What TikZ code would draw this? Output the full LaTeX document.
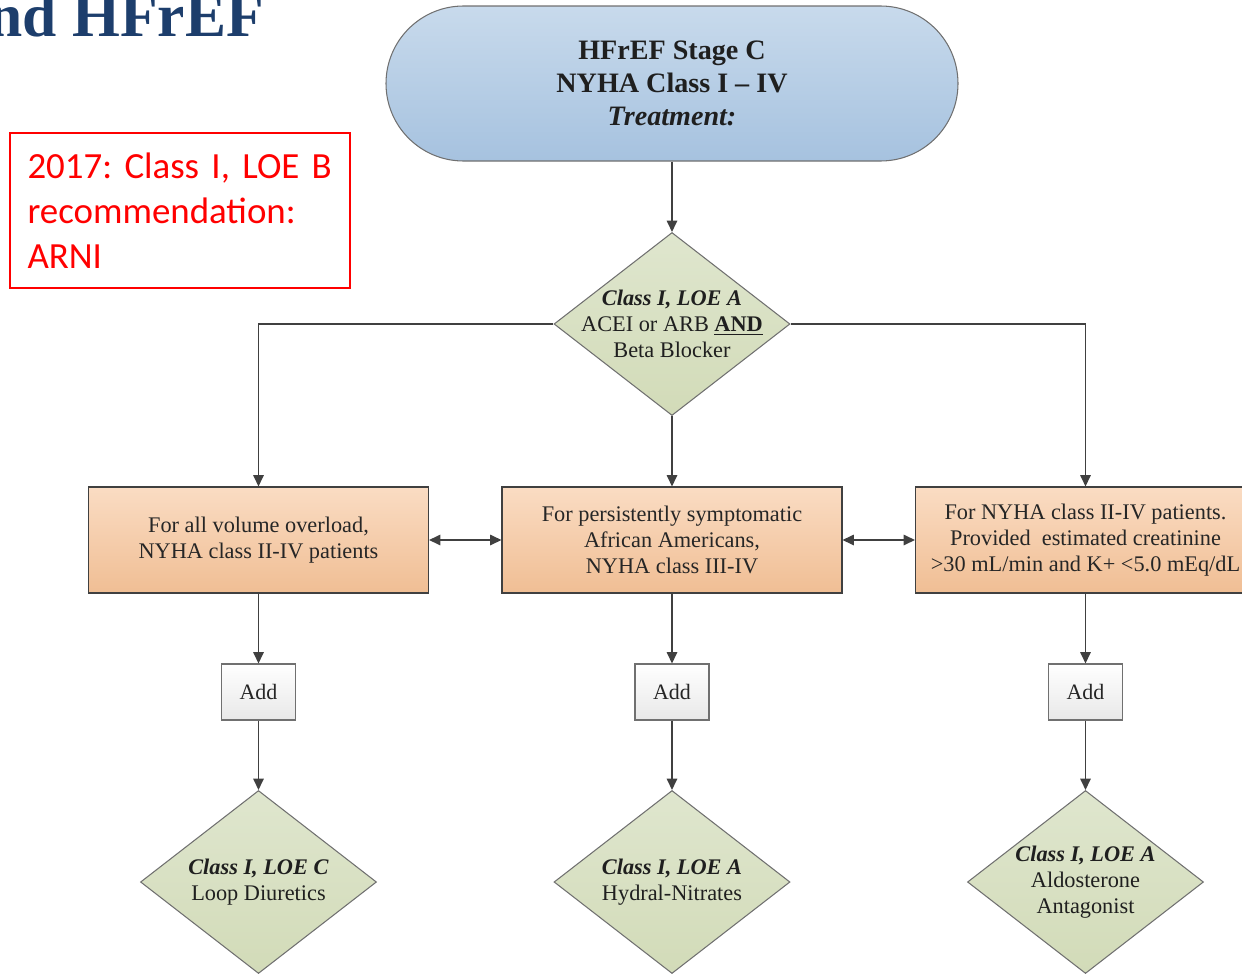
\documentclass[tikz,border=0pt]{standalone}
\usepackage{fontspec}
\setmainfont{Liberation Serif}
\newfontfamily\calibri{Carlito}
\usepackage{tikz}
\usetikzlibrary{arrows.meta, positioning, shapes.geometric}
\definecolor{termtop}{HTML}{C8DAEC}
\definecolor{termbot}{HTML}{A6C2DF}
\definecolor{boxtop}{HTML}{FADCC3}
\definecolor{boxbot}{HTML}{F0BE94}
\definecolor{diatop}{HTML}{DFE6CE}
\definecolor{diabot}{HTML}{D2DBB8}
\definecolor{edge}{HTML}{404040}
\definecolor{titleblue}{HTML}{1D3E6C}

\begin{document}
\begin{tikzpicture}[>={Triangle[width=6pt,length=6.5pt]}, line/.style={draw=edge, line width=0.8pt}, border/.style={draw=edge!75, line width=0.6pt}]
    % Define styles for the start node, blocks and decisions
    \tikzstyle{terminal} = [rectangle, rounded corners=1.55cm, minimum width=11.44cm, minimum height=3.1cm, top color=termtop, bottom color=termbot, border, align=center, text=black!88, font=\fontsize{16}{18.7}\selectfont]
    \tikzstyle{block} = [rectangle, minimum width=6.8cm, minimum height=2.12cm, top color=boxtop, bottom color=boxbot, draw=edge, line width=0.6pt, align=center, text=black!85, font=\fontsize{12.7}{14.7}\selectfont]
    \tikzstyle{decision} = [diamond, minimum width=4.72cm, minimum height=3.66cm, inner sep=0pt, top color=diatop, bottom color=diabot, border]
    \tikzstyle{dtext} = [align=center, text=black!88, font=\fontsize{12.7}{14.7}\selectfont]
    \tikzstyle{addbox} = [rectangle, minimum width=1.48cm, minimum height=1.12cm, top color=white, bottom color=black!9, border, text=black!85, font=\fontsize{12.5}{14}\selectfont]
    \tikzstyle{note} = [rectangle, draw=red, line width=0.8pt, minimum width=6.8cm, minimum height=3.1cm, inner xsep=0pt, text width=6.1cm, align=left, text=red, font=\calibri\frenchspacing\fontsize{21}{25.5}\selectfont]

    % Slide frame
    \useasboundingbox (0,0) rectangle (24.84,-19.48);
    \clip (0,0) rectangle (24.84,-19.48);

    % Title and note
    \node [anchor=base east, text=titleblue, font=\fontsize{35}{40}\selectfont\bfseries] (title) at (5.4,-0.72) {and HFrEF};
    \node [note] (arni) at (3.6,-4.21) {2017: Class I, LOE B\\recommendation:\\ARNI};

    % Nodes placement
    \node [terminal] (term) at (13.44,-1.67) {\textbf{HFrEF Stage C}\\\textbf{NYHA Class I – IV}\\\textbf{\textit{Treatment:}}};
    \node [decision, below of=term, node distance=4.81cm, label={[dtext]center:{\textbf{\textit{Class I, LOE A}}\\ACEI or ARB \underline{\textbf{AND}}\\Beta Blocker}}] (dia0) {};
    \node [block, below of=dia0, node distance=4.32cm] (box2) {For persistently symptomatic\\African Americans,\\NYHA class III-IV};
    \node [block, left of=box2, node distance=8.27cm] (box1) {For all volume overload,\\NYHA class II-IV patients};
    \node [block, right of=box2, node distance=8.27cm] (box3) {For NYHA class II-IV patients.\\Provided\ \ estimated creatinine\\>30 mL/min and K+ <5.0 mEq/dL};

    \node [addbox, below of=box1, node distance=3.04cm] (add1) {Add};
    \node [addbox, below of=box2, node distance=3.04cm] (add2) {Add};
    \node [addbox, below of=box3, node distance=3.04cm] (add3) {Add};

    \node [decision, below of=add1, node distance=3.8cm, label={[dtext]center:{\textbf{\textit{Class I, LOE C}}\\Loop Diuretics}}] (dia1) {};
    \node [decision, below of=add2, node distance=3.8cm, label={[dtext]center:{\textbf{\textit{Class I, LOE A}}\\Hydral-Nitrates}}] (dia2) {};
    \node [decision, below of=add3, node distance=3.8cm, label={[dtext]center:{\textbf{\textit{Class I, LOE A}}\\Aldosterone\\Antagonist}}] (dia3) {};

    % Draw edges
    \draw[line,->] (term) -- (dia0);
    \draw[line,->] (dia0.west) -| (box1.north);
    \draw[line,->] (dia0.east) -| (box3.north);
    \draw[line,->] (dia0) -- (box2);
    \draw[line,<->] (box1) -- (box2);
    \draw[line,<->] (box2) -- (box3);

    \draw[line,->] (box1) -- (add1);
    \draw[line,->] (box2) -- (add2);
    \draw[line,->] (box3) -- (add3);
    \draw[line,->] (add1) -- (dia1);
    \draw[line,->] (add2) -- (dia2);
    \draw[line,->] (add3) -- (dia3);
\end{tikzpicture}
\end{document}
